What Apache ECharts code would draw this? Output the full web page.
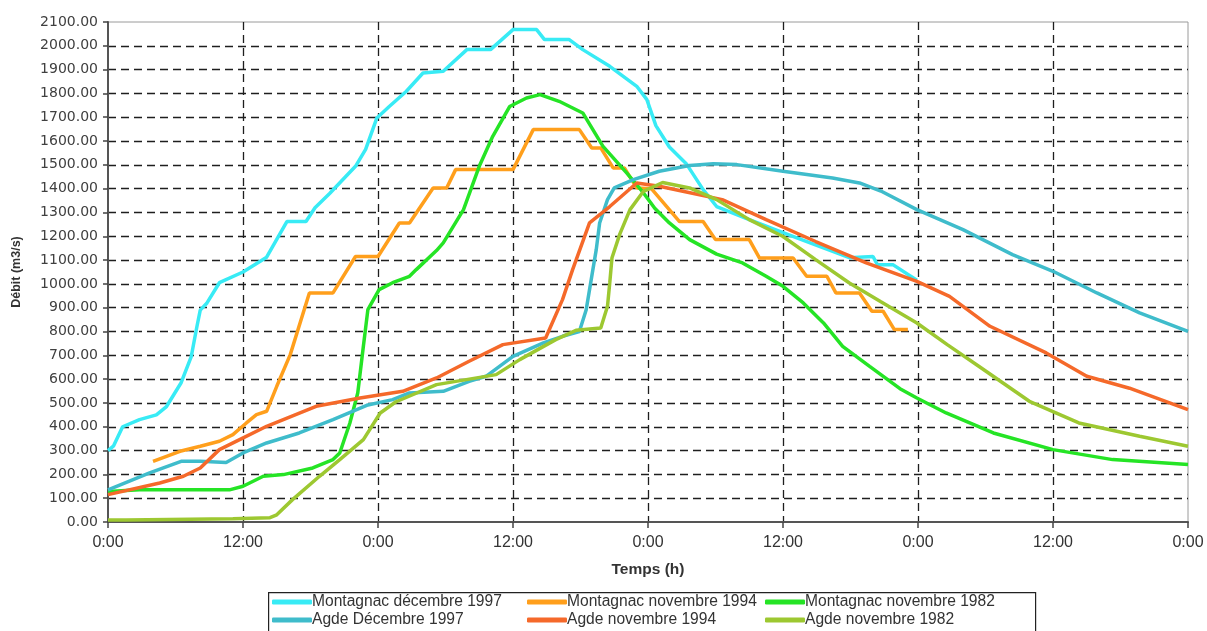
<!DOCTYPE html>
<html>
<head>
<meta charset="utf-8">
<script src="https://cdn.jsdelivr.net/npm/echarts@6/dist/echarts.min.js"></script>
<style>
html,body{margin:0;padding:0;background:#fff;}
#chart{width:1207px;height:631px;}
</style>
</head>
<body>
<div id="chart"></div>
<script>
// x = hours since start, y = débit (m3/s)
var seriesNames = ['Montagnac décembre 1997','Montagnac novembre 1994','Montagnac novembre 1982','Agde Décembre 1997','Agde novembre 1994','Agde novembre 1982'];
var seriesColors = ['#38EBF5','#FF9F1C','#25E425','#3FBCCB','#F5692A','#9DC831'];
var xTickLabels = ['0:00','12:00'];

var montagnacDec1997 = [[0,300],[0.5,320],[1.3,400],[2.8,430],[4.3,450],[5.2,485],[6.5,585],[7.4,695],[7.9,820],[8.2,890],[8.8,920],[9.9,1005],[12.0,1050],[14.1,1112],[15.9,1262],[17.6,1262],[18.4,1320],[19.7,1380],[22.0,1494],[22.9,1565],[23.9,1697],[25,1745],[26.5,1808],[28,1886],[29.8,1893],[31.9,1984],[34,1984],[36,2068],[38.1,2068],[38.8,2026],[41,2026],[42.2,1984],[44.6,1914],[47,1830],[47.9,1774],[48.7,1665],[49.9,1575],[51.4,1505],[52.9,1396],[54.1,1325],[57,1270],[60,1215],[63,1162],[65.9,1110],[68,1115],[68.4,1080],[69.8,1080],[71.9,1015]];
var montagnacNov1994 = [[4,255],[6.4,297],[8.2,318],[9.9,339],[11.1,367],[12.3,416],[13.2,451],[14.1,465],[15,570],[16.2,703],[17.9,962],[20,962],[22,1115],[24,1115],[25.9,1256],[26.8,1256],[28.9,1403],[30.1,1403],[30.9,1480],[36,1480],[37.8,1648],[41.9,1648],[43,1571],[43.8,1571],[44.9,1487],[45.9,1487],[47,1403],[48.3,1400],[50.8,1262],[52.9,1262],[54,1186],[57,1186],[57.9,1109],[60.9,1109],[62.1,1032],[63.9,1032],[64.7,962],[66.8,962],[67.9,885],[68.9,885],[69.9,808],[71.1,808]];
var montagnacNov1982 = [[0,128],[2.8,135],[10.8,135],[12,150],[13.8,192],[15.6,199],[18.2,227],[20,262],[20.6,290],[21.5,416],[22.2,542],[22.7,738],[23.1,892],[24.1,976],[25.3,1005],[26.8,1032],[27.4,1060],[29.2,1140],[29.8,1172],[31.6,1312],[33,1494],[34.2,1620],[35.7,1745],[37.2,1781],[38.4,1795],[40.1,1767],[42.2,1718],[43.1,1648],[44,1578],[46.1,1466],[47.6,1382],[48.6,1318],[49.9,1256],[51.7,1186],[54.1,1125],[56.4,1088],[58.5,1032],[60,990],[61.8,920],[63.6,836],[65.3,738],[67.7,654],[70.4,560],[71.9,521],[74.5,458],[78.7,374],[84,304],[89.3,262],[96,241]];
var agdeDec1997 = [[0,135],[3.7,206],[6.5,255],[8.2,255],[10.5,250],[12,290],[14.1,332],[17,374],[20,430],[23,490],[25.3,514],[26.8,542],[29.8,549],[32.1,591],[33.6,612],[36,696],[38.7,752],[40.4,780],[41.9,800],[42.5,890],[43.1,1060],[43.4,1144],[43.7,1256],[44.4,1354],[45,1403],[46.7,1438],[49,1473],[51.7,1497],[53.8,1505],[55.9,1501],[60,1473],[64.4,1445],[66.8,1424],[68.7,1390],[71.9,1312],[76,1228],[80.4,1123],[84,1053],[87.9,962],[91.7,878],[96,801]];
var agdeNov1994 = [[0,115],[4.6,164],[6.7,192],[8.2,227],[9.9,304],[11.7,346],[14.1,402],[18.5,486],[22.4,521],[26.2,549],[29.2,605],[32.1,675],[35.1,745],[38.9,773],[40.4,934],[41.3,1060],[42.8,1256],[44.6,1325],[47,1424],[49,1410],[51.1,1389],[54.6,1354],[58.5,1270],[62.9,1178],[67.4,1088],[71.9,1011],[74.8,948],[78.4,822],[83.4,710],[87,612],[90.8,562],[96,472]];
var agdeNov1982 = [[0,8],[1.6,8],[11.1,14],[14.4,18],[15,30],[16.4,94],[18.8,192],[20.6,262],[22.7,346],[24.2,458],[25.6,505],[29.2,577],[34.5,619],[36.6,682],[39.8,766],[41.6,805],[43.8,815],[44.4,906],[44.6,1004],[44.8,1110],[45.5,1210],[46.4,1312],[47.6,1389],[49.3,1426],[51.7,1403],[54.1,1354],[57,1270],[60,1199],[62.9,1102],[65.9,1004],[68.7,925],[71.9,836],[74.6,745],[77.4,654],[81.9,507],[86.3,416],[91.7,360],[96,318]];

var allData = [montagnacDec1997, montagnacNov1994, montagnacNov1982, agdeDec1997, agdeNov1994, agdeNov1982];

var chart = echarts.init(document.getElementById('chart'), null, {renderer:'canvas'});

var series = allData.map(function(d, i){
  return {
    name: seriesNames[i],
    type: 'line',
    data: d,
    showSymbol: false,
    symbol: 'none',
    smooth: false,
    lineStyle: {width: 3.5, color: seriesColors[i]},
    itemStyle: {color: seriesColors[i]},
    emphasis: {disabled: true},
    animation: false
  };
});

function legendCol(idx, left){
  return {
    orient: 'vertical',
    left: left,
    top: 594,
    itemGap: 2,
    itemWidth: 40,
    itemHeight: 5,
    icon: 'roundRect',
    padding: 0,
    selectedMode: false,
    textStyle: {fontFamily: 'Liberation Sans', fontSize: 15.6, color: '#333', padding: [0,0,0,-5]},
    data: idx.map(function(k){ return {name: seriesNames[k], itemStyle:{color: seriesColors[k]}}; })
  };
}

var option = {
  backgroundColor: '#fff',
  animation: false,
  grid: {left: 108, right: 19, top: 22, bottom: 109, show: true, borderColor: '#9a9a9a', borderWidth: 1},
  xAxis: {
    type: 'value', min: 0, max: 96, interval: 12,
    name: 'Temps (h)', nameLocation: 'middle', nameGap: 40,
    nameTextStyle: {fontFamily: 'Liberation Sans', fontSize: 15.5, fontWeight: 'bold', color: '#333'},
    axisLine: {show: true, lineStyle: {color: '#555', width: 2}},
    axisTick: {show: true, length: 6, lineStyle: {color: '#444', width: 1.5}},
    axisLabel: {
      margin: 13, fontFamily: 'Liberation Sans', fontSize: 16, color: '#333',
      formatter: function(v){ return (v % 24 === 0) ? xTickLabels[0] : xTickLabels[1]; }
    },
    splitLine: {show: true, showMinLine: false, showMaxLine: false, lineStyle: {type: [8,5], color: '#1e1e1e', width: 1.3}}
  },
  yAxis: {
    type: 'value', min: 0, max: 2100, interval: 100,
    name: 'Débit (m3/s)', nameLocation: 'middle', nameGap: 85,
    nameTextStyle: {fontFamily: 'Liberation Sans', fontSize: 12.5, fontWeight: 'bold', color: '#333'},
    axisLine: {show: true, lineStyle: {color: '#555', width: 2}},
    axisTick: {show: true, length: 5, lineStyle: {color: '#444', width: 1.5}},
    axisLabel: {
      margin: 10, fontFamily: 'DejaVu Sans', fontSize: 14, color: '#404040',
      formatter: function(v){ return v.toFixed(2); }
    },
    splitLine: {show: true, showMinLine: false, showMaxLine: false, lineStyle: {type: [8,5], color: '#1e1e1e', width: 1.3}}
  },
  legend: [legendCol([0,3], 272), legendCol([1,4], 527), legendCol([2,5], 765)],
  graphic: [{
    type: 'rect', left: 268, top: 592, z: -1,
    shape: {width: 767, height: 50},
    style: {fill: '#fff', stroke: '#222', lineWidth: 1.2}
  }],
  series: series
};
chart.setOption(option);
</script>
</body>
</html>
